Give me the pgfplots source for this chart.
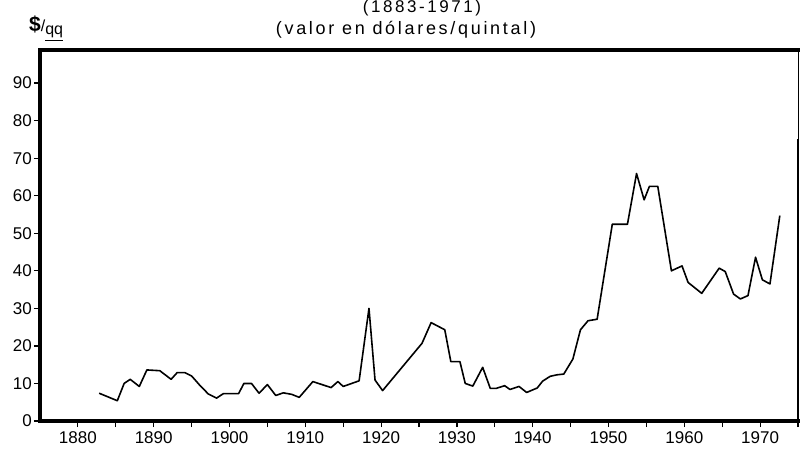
\documentclass[border=0pt]{standalone}
\usepackage{fontspec}
\setmainfont{Liberation Sans}
\newfontfamily\lsp[LetterSpace=15]{Liberation Sans}
\usepackage{pgfplots}
\pgfplotsset{compat=1.18}
\begin{document}
\begin{tikzpicture}
\path[use as bounding box] (-40pt,-38pt) rectangle (761pt,421pt);
\begin{axis}[
  at={(0pt,0pt)}, anchor=south west,
  scale only axis, width=758pt, height=371pt,
  xmin=1875, xmax=1975, ymin=0, ymax=98.8,
  xtick={1880,1890,...,1970},
  minor xtick={1885,1895,...,1975},
  ytick={0,10,...,90},
  xtick pos=bottom, ytick pos=left,
  tick align=outside,
  major tick length=6pt, minor tick length=6pt,
  tick style={line width=1.2pt, black},
  minor tick style={line width=1.2pt, black},
  /pgf/number format/assume math mode=true,
  xticklabel={\pgfmathprintnumber[1000 sep={}]{\tick}},
  ticklabel style={font=\fontsize{17}{17}\selectfont, inner sep=1pt},
  xticklabel style={yshift=-3pt},
  yticklabel style={xshift=-1pt},
  clip=false,
]
\addplot[black, line width=1.6pt, line join=round] coordinates {
(1882.8,7.4) (1885.2,5.4) (1886.1,10.0) (1886.9,11.1) (1888.1,9.2)
(1889.1,13.6) (1890.8,13.4) (1892.3,11.1) (1893.1,12.9) (1894.1,12.9)
(1895.0,12.0) (1896.0,9.7) (1897.2,7.2) (1898.3,6.1) (1899.2,7.3)
(1901.2,7.3) (1901.9,10.0) (1902.9,10.0) (1903.9,7.4) (1905.0,9.7)
(1906.1,6.8) (1907.1,7.5) (1908.2,7.1) (1909.2,6.3) (1911.0,10.5)
(1913.4,8.9) (1914.3,10.5) (1915.0,9.2) (1917.1,10.7) (1918.4,30.0)
(1919.2,10.9) (1920.2,8.1) (1925.4,20.7) (1926.6,26.2) (1928.4,24.3)
(1929.2,15.8) (1930.4,15.8) (1931.1,10.0) (1932.1,9.3) (1933.4,14.3)
(1934.4,8.7) (1935.2,8.7) (1936.3,9.4) (1937.0,8.4) (1938.2,9.2)
(1939.2,7.6) (1940.6,8.8) (1941.3,10.6) (1942.3,11.9) (1943.2,12.3)
(1944.1,12.5) (1945.3,16.5) (1946.3,24.3) (1947.3,26.7) (1948.5,27.1)
(1950.5,52.4) (1952.5,52.4) (1953.7,65.9) (1954.7,58.9) (1955.4,62.5)
(1956.5,62.5) (1958.3,40.0) (1959.7,41.3) (1960.5,36.9) (1962.3,34.0)
(1964.6,40.7) (1965.4,39.8) (1966.5,33.8) (1967.4,32.5) (1968.4,33.4)
(1969.4,43.6) (1970.3,37.6) (1971.3,36.5) (1972.6,54.7)
};
\draw[black, line width=3.2pt, line cap=rect, line join=miter]
  (rel axis cs:1,1) -- (rel axis cs:0,1) -- (rel axis cs:0,0) -- (rel axis cs:1,0);
\draw[black, line width=2.2pt] (rel axis cs:1,0) -- (rel axis cs:1,0.76);
\end{axis}
\node[anchor=base] at (382pt,408pt) {\lsp\fontsize{17}{17}\selectfont (1883-1971)};
\node[anchor=base] at (366pt,386pt) {\lsp\fontsize{18}{18}\selectfont (valor en dólares/quintal)};
\node[anchor=base west, inner sep=0pt] at (-11pt,389pt) {{\fontsize{21}{21}\selectfont\bfseries \$}{\fontsize{16}{16}\selectfont/\raisebox{-3pt}{\underline{qq}}}};
\end{tikzpicture}
\end{document}
